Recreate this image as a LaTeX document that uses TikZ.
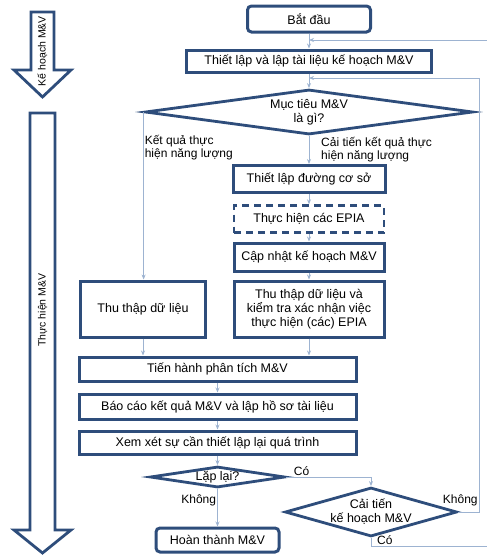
\documentclass[tikz,border=0pt]{standalone}
\usepackage{fontspec}
\setmainfont{Liberation Sans}
\usepackage{tikz}
\usetikzlibrary{arrows.meta, positioning, shapes.geometric}
\usepackage{xcolor}
\definecolor{mvblue}{HTML}{2E4D7B}
\definecolor{mvline}{HTML}{9DB3D1}

\begin{document}
\begin{tikzpicture}[
    x=1pt, y=-1pt,
    every node/.style={font=\fontsize{12.5}{14}\selectfont, align=center, inner sep=1pt},
    box/.style={rectangle, draw=mvblue, line width=3pt, fill=white},
    startbox/.style={box, rounded corners=4pt},
    dbox/.style={box, line width=2.4pt, dash pattern=on 7pt off 5pt},
    decision/.style={diamond, draw=mvblue, line width=2.8pt, fill=white, inner sep=0pt},
    flow/.style={draw=mvline, line width=0.8pt, -{Stealth[length=5pt, width=4pt]}},
    lbl/.style={font=\fontsize{12}{13}\selectfont, inner sep=1pt},
    bigarrow/.style={draw=mvblue, line width=2.8pt, fill=white, line join=miter},
    sidetext/.style={rotate=90, font=\fontsize{10.5}{12}\selectfont},
  ]
  \clip (0,0) rectangle (487,555);

  \draw[bigarrow] (31,12) -- (54,12) -- (54,70) -- (71,70) -- (42.5,97) -- (14,70) -- (31,70) -- cycle;
  \node[sidetext] (planlbl) at (42.5,51) {Kế hoạch M\&V};
  \draw[bigarrow] (30,113) -- (55,113) -- (55,530) -- (71,530) -- (42.5,553) -- (14,530) -- (30,530) -- cycle;
  \node[sidetext] (dolbl) at (42.5,310) {Thực hiện M\&V};

  \node[startbox, minimum width=123pt, minimum height=26pt] (start) at (309,19) {Bắt đầu};
  \node[box, minimum width=245pt, minimum height=22pt] (plan) at (309,61) {Thiết lập và lập tài liệu kế hoạch M\&V};
  \node[decision, minimum width=328pt, minimum height=45pt, aspect=7.3] (goal) at (309,112) {Mục tiêu M\&V\\là gì?};

  \node[box, minimum width=152pt, minimum height=27pt] (baseline) at (309,179) {Thiết lập đường cơ sở};
  \node[dbox, minimum width=150pt, minimum height=27pt] (epia) at (309,219) {Thực hiện các EPIA};
  \node[box, minimum width=150pt, minimum height=28pt] (update) at (309,257) {Cập nhật kế hoạch M\&V};
  \node[box, minimum width=150pt, minimum height=56pt] (verify) at (309,309) {Thu thập dữ liệu và\\kiểm tra xác nhận việc\\thực hiện (các) EPIA};
  \node[box, minimum width=125pt, minimum height=56pt] (collect) at (143,309) {Thu thập dữ liệu};

  \node[box, minimum width=277pt, minimum height=24pt] (analysis) at (217.5,369) {Tiến hành phân tích M\&V};
  \node[box, minimum width=277pt, minimum height=25pt] (report) at (217.5,406.5) {Báo cáo kết quả M\&V và lập hồ sơ tài liệu};
  \node[box, minimum width=277pt, minimum height=23pt] (review) at (217.5,442.5) {Xem xét sự cần thiết lập lại quá trình};
  \node[decision, minimum width=135pt, minimum height=21pt, aspect=6.4] (repeat) at (217.5,477) {Lặp lại?};
  \node[startbox, minimum width=123pt, minimum height=24pt] (finish) at (217.5,540) {Hoàn thành M\&V};
  \node[decision, minimum width=172pt, minimum height=49pt, aspect=3.5] (improve) at (371,512) {Cải tiến\\kế hoạch M\&V};

  \node[lbl, align=left, anchor=north west, below right=22pt and 0pt of goal.west] (kq) {Kết quả thực\\hiện năng lượng};
  \node[lbl, align=left, anchor=north west, below right=0pt and 11pt of goal.south] (ct) {Cải tiến kết quả thực\\hiện năng lượng};

  \coordinate (j1) at (309,40);
  \coordinate (j2) at (309,78);
  \coordinate (kloop) at (479,512);
  \coordinate (cloop) at (490,546);

  \draw[flow] (start) -- (plan);
  \draw[flow] (plan) -- (goal);
  \draw[flow] (goal.west) -- (goal.west |- collect.north);
  \draw[flow] (goal.south) -- (baseline.north);
  \draw[flow] (baseline) -- (epia);
  \draw[flow] (epia) -- (update);
  \draw[flow] (update) -- (verify);
  \draw[flow] (collect.south) -- (collect.south |- analysis.north);
  \draw[flow] (verify.south) -- (verify.south |- analysis.north);
  \draw[flow] (analysis) -- (report);
  \draw[flow] (report) -- (review);
  \draw[flow] (review) -- (repeat);
  \draw[flow] (repeat.east) -| node[lbl, above, pos=0.09] {Có} (improve.north);
  \draw[flow] (repeat.south) -- node[lbl, left, pos=0.3] {Không} (finish.north);
  \draw[flow] (improve.east) -- node[lbl, above left, pos=1, yshift=5pt] {Không} (kloop) |- (j2);
  \draw[flow] (improve.south) |- node[lbl, above right, pos=0.52] {Có} (cloop) |- (j1);
\end{tikzpicture}
\end{document}
